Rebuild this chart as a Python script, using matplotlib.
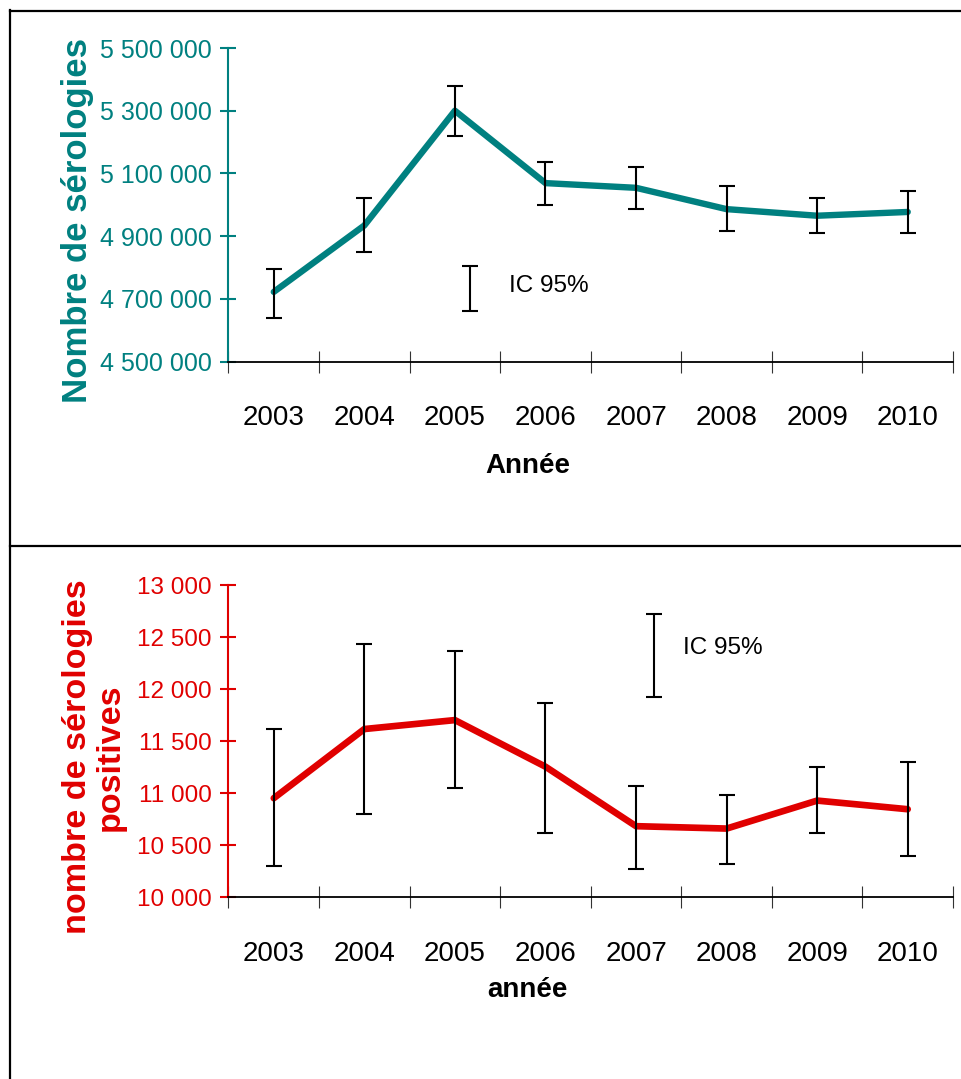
import matplotlib
matplotlib.use("Agg")
import matplotlib.pyplot as plt
from matplotlib.lines import Line2D
from matplotlib.ticker import FuncFormatter, FixedLocator
import numpy as np

# ---------------- data ----------------
years = ['2003', '2004', '2005', '2006', '2007', '2008', '2009', '2010']

top_vals = [4722000, 4934000, 5300000, 5069000, 5054000, 4986000, 4965000, 4977000]
top_low = [4640000, 4850000, 5218000, 5000000, 4985000, 4917000, 4910000, 4910000]
top_high = [4795000, 5023000, 5378000, 5137000, 5120000, 5060000, 5023000, 5044000]
top_yticks = [4500000, 4700000, 4900000, 5100000, 5300000, 5500000]

bot_vals = [10950, 11615, 11701, 11253, 10681, 10658, 10927, 10844]
bot_low = [10297, 10796, 11045, 10613, 10274, 10319, 10613, 10390]
bot_high = [11615, 12437, 12367, 11864, 11068, 10978, 11250, 11298]
bot_yticks = [10000, 10500, 11000, 11500, 12000, 12500, 13000]

TEAL = '#008080'
RED = '#E00000'
FONT = ['Liberation Sans', 'DejaVu Sans']

W, H = 962, 1079
fig = plt.figure(figsize=(W / 100, H / 100), dpi=100)

def px_to_fig(x0, y0, x1, y1):
    return [x0 / W, 1 - y1 / H, (x1 - x0) / W, (y1 - y0) / H]

fmt = FuncFormatter(lambda v, p: f"{int(round(v)):,}".replace(",", " "))

def style_axes(ax, color, yticks, ylabel, xlabel, ylabel_coords, xlabel_y,
               ytick_size, ylabel_size, linespacing=1.2):
    x = np.arange(len(years))
    ax.set_xlim(-0.5, len(years) - 0.5)
    ax.set_ylim(yticks[0], yticks[-1])
    for s in ['top', 'right']:
        ax.spines[s].set_visible(False)
    ax.spines['left'].set_color(color)
    ax.spines['left'].set_linewidth(1.5)
    ax.spines['bottom'].set_color('black')
    ax.spines['bottom'].set_linewidth(1.3)
    # y axis
    ax.set_yticks(yticks)
    ax.yaxis.set_major_formatter(fmt)
    ax.tick_params(axis='y', which='major', direction='inout', length=11.5, width=1.5,
                   color=color, labelcolor=color, pad=6.5)
    for lab in ax.get_yticklabels():
        lab.set_fontfamily(FONT)
        lab.set_fontsize(ytick_size)
    # x axis: major ticks between categories, labels on minor ticks
    ax.xaxis.set_major_locator(FixedLocator(np.arange(-0.5, len(years), 1.0)))
    ax.xaxis.set_major_formatter(FuncFormatter(lambda v, p: ''))
    ax.xaxis.set_minor_locator(FixedLocator(x))
    ax.xaxis.set_minor_formatter(FuncFormatter(lambda v, p: years[int(round(v))]))
    ax.tick_params(axis='x', which='major', direction='inout', length=16.5, width=0.8,
                   color='#333333')
    ax.tick_params(axis='x', which='minor', length=0, pad=31.5, labelcolor='black')
    for lab in ax.xaxis.get_minorticklabels():
        lab.set_fontfamily(FONT)
        lab.set_fontsize(20)
    ax.set_ylabel(ylabel, color=color, fontsize=ylabel_size, fontweight='bold',
                  family=FONT, linespacing=linespacing)
    ax.yaxis.set_label_coords(*ylabel_coords)
    ax.set_xlabel(xlabel, color='black', fontsize=20, fontweight='bold', family=FONT)
    ax.xaxis.set_label_coords(0.413, xlabel_y)

# ---------------- top chart ----------------
ax1 = fig.add_axes(px_to_fig(228.5, 48, 953, 361.5))
xs = np.arange(len(years))
ax1.plot(xs, top_vals, color=TEAL, linewidth=4.6, solid_capstyle='round', zorder=2)
ax1.errorbar(xs, top_vals,
             yerr=[np.array(top_vals) - np.array(top_low), np.array(top_high) - np.array(top_vals)],
             fmt='none', ecolor='black', elinewidth=1.5, capsize=5.8, capthick=1.5, zorder=3)
style_axes(ax1, TEAL, top_yticks, 'Nombre de sérologies', 'Année', (-0.185, 0.45),
           -0.293, 18, 25)
# IC legend
ax1.errorbar([2.17], [4733000], yerr=[[72000], [72000]], fmt='none', ecolor='black',
             elinewidth=1.5, capsize=5.8, capthick=1.5)
ax1.text(2.6, 4742000, 'IC 95%', fontsize=17.5, family=FONT, va='center', ha='left')

# ---------------- bottom chart ----------------
ax2 = fig.add_axes(px_to_fig(228.5, 585, 953, 897))
ax2.plot(xs, bot_vals, color=RED, linewidth=4.8, solid_capstyle='round', zorder=2)
ax2.errorbar(xs, bot_vals,
             yerr=[np.array(bot_vals) - np.array(bot_low), np.array(bot_high) - np.array(bot_vals)],
             fmt='none', ecolor='black', elinewidth=1.5, capsize=5.8, capthick=1.5, zorder=3)
style_axes(ax2, RED, bot_yticks, 'nombre de sérologies\npositives', 'année', (-0.142, 0.449),
           -0.255, 17.5, 24.6, linespacing=1.07)
ax2.errorbar([4.2], [12320], yerr=[[398], [398]], fmt='none', ecolor='black',
             elinewidth=1.5, capsize=5.8, capthick=1.5)
ax2.text(4.52, 12390, 'IC 95%', fontsize=17.5, family=FONT, va='center', ha='left')

# ---------------- frame lines ----------------
def fig_line(x0, y0, x1, y1):
    fig.add_artist(Line2D([x0 / W, x1 / W], [1 - y0 / H, 1 - y1 / H],
                          transform=fig.transFigure, color='black', linewidth=1.6))

fig_line(10, 10.5, W, 10.5)
fig_line(10, 10, 10, H)
fig_line(10, 546, W, 546)

fig.savefig('out.png', dpi=100)
